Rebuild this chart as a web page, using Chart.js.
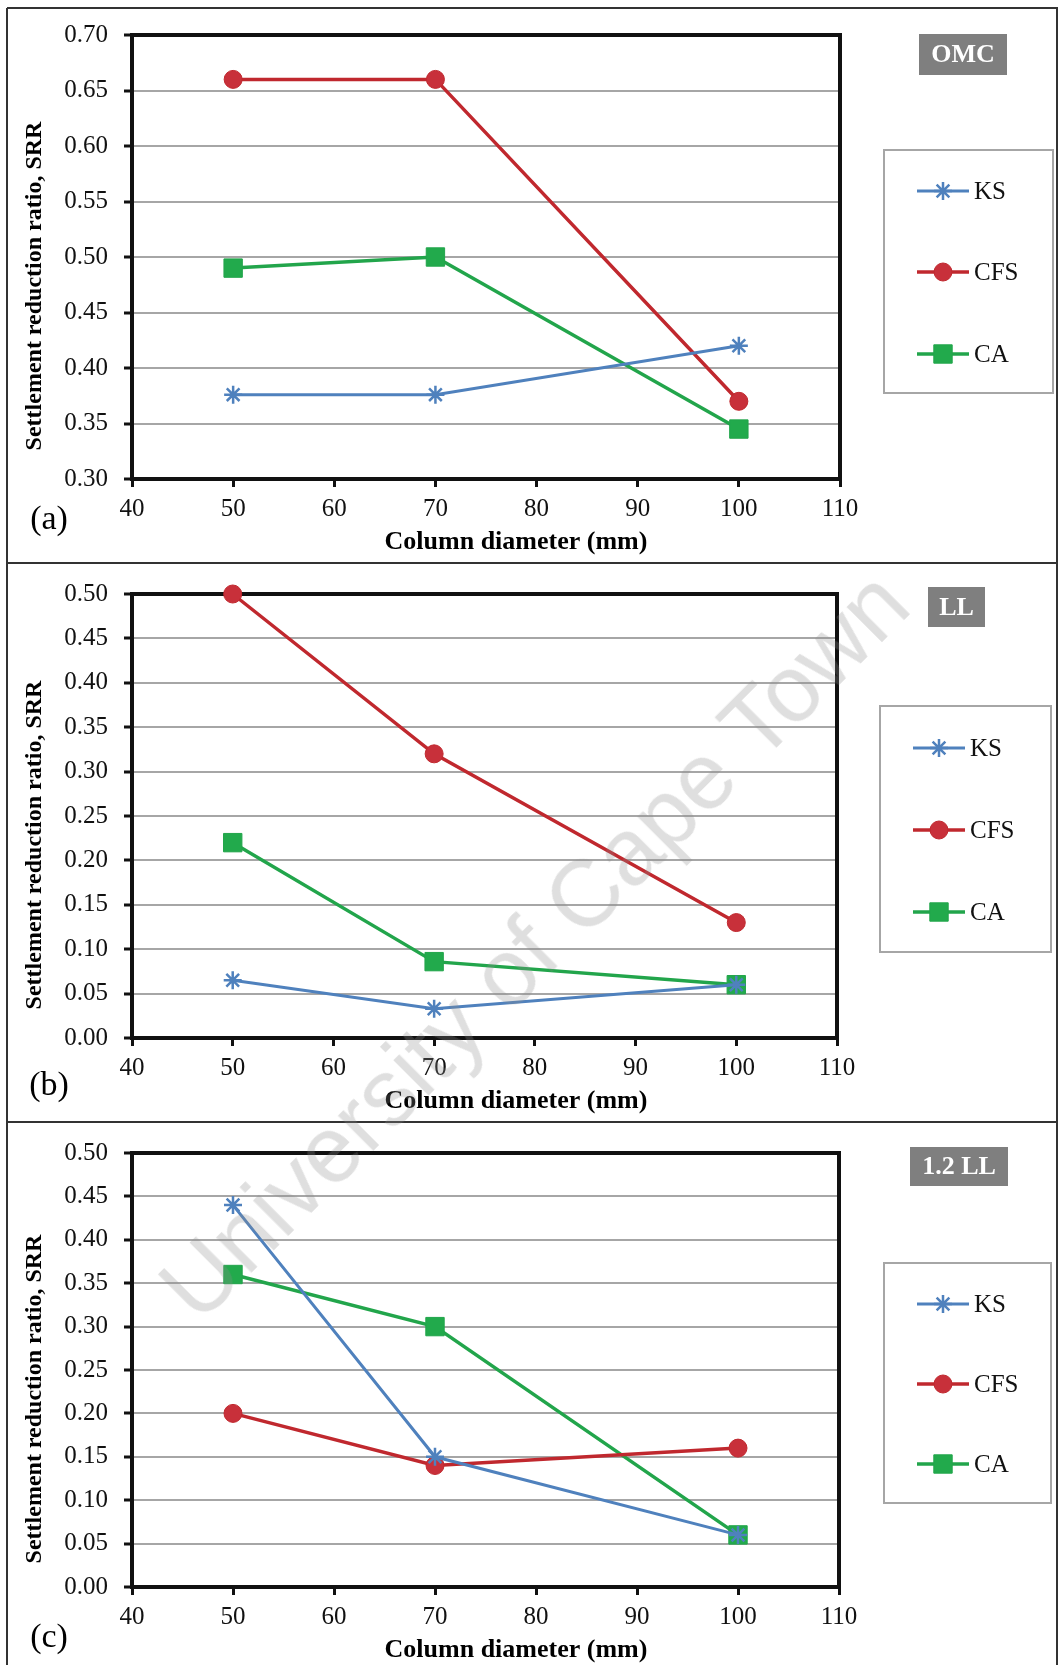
<!DOCTYPE html>
<html>
<head>
<meta charset="utf-8">
<script src="https://cdn.jsdelivr.net/npm/chart.js@4.4.1/dist/chart.umd.min.js"></script>
<style>
  html, body { margin: 0; padding: 0; background: #fff; }
  #page { position: relative; width: 1058px; height: 1665px; overflow: hidden; background: #fff; }
  .panel { position: absolute; left: 0; }
  .hline { position: absolute; left: 7px; right: 0; height: 2px; background: #333; }
  .vline { position: absolute; top: 8px; bottom: 0; width: 2px; background: #333; }
  #wm {
    position: absolute; left: 534px; top: 945px;
    transform: translate(-50%, -50%) rotate(-45deg);
    font-family: "Liberation Sans", Arial, sans-serif; font-size: 94px;
    color: rgba(140, 140, 140, 0.28); white-space: nowrap; pointer-events: none;
  }
</style>
</head>
<body>
<div id="page">
  <div class="panel" id="pa" style="top:0px"><canvas id="ca" width="1058" height="563"></canvas></div>
  <div class="panel" id="pb" style="top:563px"><canvas id="cb" width="1058" height="559"></canvas></div>
  <div class="panel" id="pc" style="top:1122px"><canvas id="cc" width="1058" height="543"></canvas></div>
  <div class="hline" style="top:7px"></div>
  <div class="hline" style="top:562px"></div>
  <div class="hline" style="top:1121px"></div>
  <div class="vline" style="left:6px"></div>
  <div class="vline" style="left:1056px"></div>
  <div id="wm">University of Cape Town</div>
</div>
<script>
// x values (column diameter, mm)
const diameters = [50, 70, 100];
const seriesNames = ["KS", "CFS", "CA"];

// (a) OMC
const omcKS = [0.376, 0.376, 0.42];
const omcCFS = [0.66, 0.66, 0.37];
const omcCA = [0.49, 0.50, 0.345];

// (b) LL
const llKS = [0.065, 0.033, 0.06];
const llCFS = [0.50, 0.32, 0.13];
const llCA = [0.22, 0.086, 0.06];

// (c) 1.2 LL
const ll12KS = [0.44, 0.15, 0.06];
const ll12CFS = [0.20, 0.14, 0.16];
const ll12CA = [0.36, 0.30, 0.06];

const xRange = [40, 110];
const yRangeA = [0.30, 0.70];
const yRangeBC = [0.0, 0.50];

const SERIF = '"Liberation Serif", "Times New Roman", serif';
const X_H = 60;

// page-coordinate layout of each panel
const panels = [
  { canvas: "ca", top: 0, height: 563, tag: "OMC", label: "(a)", yr: yRangeA,
    values: [omcKS, omcCFS, omcCA],
    plot: { l: 132, r: 840, t: 35, b: 479 },
    tagBox: [919, 34, 1007, 75], legBox: [884, 150, 1053, 393], rows: [191, 272, 354], labelY: 520 },
  { canvas: "cb", top: 563, height: 559, tag: "LL", label: "(b)", yr: yRangeBC,
    values: [llKS, llCFS, llCA],
    plot: { l: 132, r: 837, t: 589, b: 1038 },
    tagBox: [928, 587, 985, 627], legBox: [880, 706, 1051, 952], rows: [748, 830, 912], labelY: 1086 },
  { canvas: "cc", top: 1122, height: 543, tag: "1.2 LL", label: "(c)", yr: yRangeBC,
    values: [ll12KS, ll12CFS, ll12CA],
    plot: { l: 132, r: 839, t: 1149, b: 1587 },
    tagBox: [910, 1147, 1008, 1186], legBox: [884, 1263, 1051, 1503], rows: [1304, 1384, 1464], labelY: 1638 }
];

const styles = [
  { color: "#4f81bd", fill: "#4f81bd", width: 3, point: "star", radius: 9, pbw: 2.5 },
  { color: "#c0282e", fill: "#c8303a", width: 3.5, point: "circle", radius: 9, pbw: 1 },
  { color: "#22a54b", fill: "#22aa4c", width: 3.5, point: "rect", radius: 13, pbw: 1 }
];

const extras = {
  id: "extras",
  beforeDatasetsDraw(chart) {
    const a = chart.chartArea;
    const ctx = chart.ctx;
    ctx.save();
    ctx.strokeStyle = "#111";
    ctx.lineWidth = 4;
    ctx.strokeRect(a.left, a.top, a.right - a.left, a.bottom - a.top);
    ctx.restore();
  },
  afterDraw(chart) {
    const p = chart.options.plugins.extras;
    const off = p.top;
    const ctx = chart.ctx;
    const a = chart.chartArea;
    ctx.save();

    // y title
    ctx.save();
    ctx.translate(35, (a.top + a.bottom) / 2 + 29);
    ctx.rotate(-Math.PI / 2);
    ctx.font = "bold 24px " + SERIF;
    ctx.fillStyle = "#000";
    ctx.textAlign = "center";
    ctx.textBaseline = "middle";
    ctx.fillText("Settlement reduction ratio, SRR", 0, 0);
    ctx.restore();

    // x title
    ctx.font = "bold 26px " + SERIF;
    ctx.fillStyle = "#000";
    ctx.textAlign = "center";
    ctx.textBaseline = "middle";
    ctx.fillText("Column diameter (mm)", 516, a.bottom + 63);

    // panel label
    ctx.font = "34px " + SERIF;
    ctx.fillText(p.label, 49, p.labelY - off);

    // tag box
    const tb = p.tagBox;
    ctx.fillStyle = "#7f7f7f";
    ctx.fillRect(tb[0], tb[1] - off, tb[2] - tb[0], tb[3] - tb[1]);
    ctx.fillStyle = "#fff";
    ctx.font = "bold 26px " + SERIF;
    ctx.fillText(p.tag, (tb[0] + tb[2]) / 2, (tb[1] + tb[3]) / 2 - off + 1);

    // legend
    const lb = p.legBox;
    ctx.strokeStyle = "#a6a6a6";
    ctx.lineWidth = 2;
    ctx.strokeRect(lb[0], lb[1] - off, lb[2] - lb[0], lb[3] - lb[1]);
    chart.data.datasets.forEach((ds, i) => {
      const y = p.rows[i] - off;
      const x1 = lb[0] + 33, x2 = lb[0] + 85;
      ctx.strokeStyle = ds.borderColor;
      ctx.lineWidth = ds.borderWidth;
      ctx.beginPath();
      ctx.moveTo(x1, y);
      ctx.lineTo(x2, y);
      ctx.stroke();
      ctx.fillStyle = ds.pointBackgroundColor;
      ctx.strokeStyle = ds.pointBorderColor;
      ctx.lineWidth = ds.pointBorderWidth;
      Chart.helpers.drawPoint(ctx, {
        pointStyle: ds.pointStyle, radius: ds.pointRadius,
        borderWidth: ds.pointBorderWidth, rotation: 0
      }, (x1 + x2) / 2, y);
      ctx.fillStyle = "#111";
      ctx.font = "25px " + SERIF;
      ctx.textAlign = "left";
      ctx.textBaseline = "middle";
      ctx.fillText(ds.label, lb[0] + 90, y + 1);
    });
    ctx.restore();
  }
};

panels.forEach((pn) => {
  const tickFont = { family: SERIF, size: 25 };
  const datasets = seriesNames.map((name, i) => {
    const s = styles[i];
    return {
      label: name,
      data: diameters.map((d, j) => ({ x: d, y: pn.values[i][j] })),
      borderColor: s.color,
      backgroundColor: s.fill,
      borderWidth: s.width,
      pointStyle: s.point,
      pointRadius: s.radius,
      pointBackgroundColor: s.fill,
      pointBorderColor: s.color,
      pointBorderWidth: s.pbw,
      tension: 0,
      clip: false
    };
  });

  new Chart(document.getElementById(pn.canvas), {
    type: "line",
    data: { datasets },
    plugins: [extras],
    options: {
      responsive: false,
      animation: false,
      layout: {
        padding: {
          left: 0,
          top: pn.plot.t - pn.top,
          right: 1058 - pn.plot.r,
          bottom: pn.height - (pn.plot.b - pn.top) - X_H
        }
      },
      plugins: {
        legend: { display: false },
        tooltip: { enabled: false },
        extras: {
          top: pn.top, label: pn.label, labelY: pn.labelY, tag: pn.tag,
          tagBox: pn.tagBox, legBox: pn.legBox, rows: pn.rows
        }
      },
      scales: {
        x: {
          type: "linear",
          min: xRange[0],
          max: xRange[1],
          ticks: { stepSize: 10, font: tickFont, color: "#111", padding: 7, maxRotation: 0 },
          grid: { drawOnChartArea: false, tickLength: 8, tickColor: "#111", tickWidth: 3 },
          border: { display: false },
          afterFit: (s) => { s.height = X_H; }
        },
        y: {
          min: pn.yr[0],
          max: pn.yr[1],
          ticks: { stepSize: 0.05, font: tickFont, color: "#111", padding: 16,
                   callback: (v) => Number(v).toFixed(2) },
          grid: { color: "#a6a6a6", lineWidth: 2, tickLength: 8, tickColor: "#111", tickWidth: 3 },
          border: { display: false },
          afterFit: (s) => { s.width = pn.plot.l; }
        }
      }
    }
  });
});
</script>
</body>
</html>
